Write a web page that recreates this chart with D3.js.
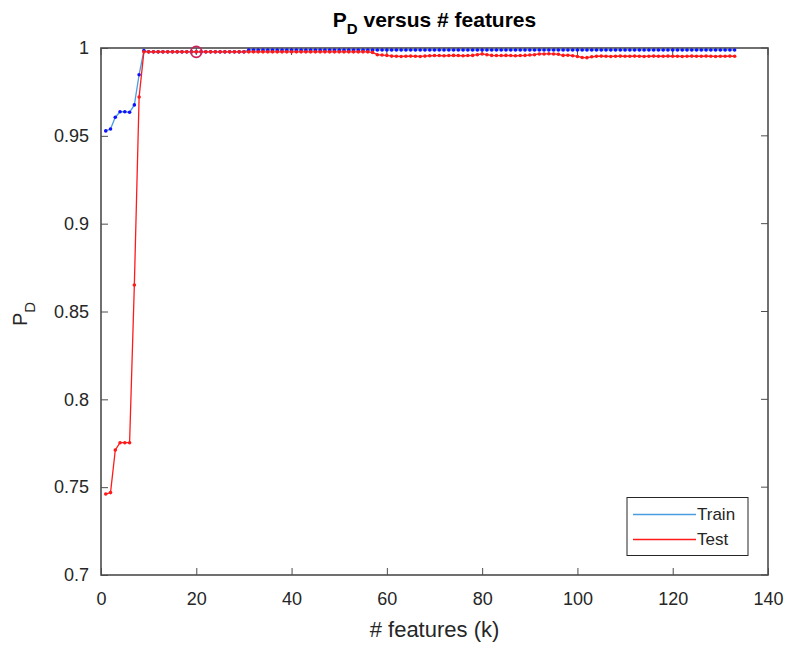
<!DOCTYPE html>
<html>
<head>
<meta charset="utf-8">
<script src="https://cdn.jsdelivr.net/npm/d3@7"></script>
<style>
  html, body { margin: 0; padding: 0; background: #fff; }
  svg { display: block; font-family: "Liberation Sans", Arial, sans-serif; }
</style>
</head>
<body>
<svg id="chart" width="786" height="647"></svg>
<script>
// ---------------- DATA ----------------
const xTicks = [0, 20, 40, 60, 80, 100, 120, 140];
const yTicks = [0.7, 0.75, 0.8, 0.85, 0.9, 0.95, 1];
const yTickLabels = ["0.7", "0.75", "0.8", "0.85", "0.9", "0.95", "1"];
const seriesNames = ["Train", "Test"];

const trainPD = [
  0.9528, 0.9539, 0.9606, 0.9637, 0.9637, 0.9634, 0.9676, 0.9848, 0.9985,
  0.9978, 0.9978, 0.9978, 0.9978, 0.9978, 0.9978, 0.9978,
  0.9978, 0.9978, 0.9978, 0.9978, 0.9978, 0.9978, 0.9978,
  0.9978, 0.9978, 0.9978, 0.9978, 0.9978, 0.9978, 0.9978,
  0.9989, 0.9989, 0.9989, 0.9989, 0.9989, 0.9989, 0.9989, 0.9989, 0.9989, 0.9989,
  0.9989, 0.9989, 0.9989, 0.9989, 0.9989, 0.9989, 0.9989, 0.9989, 0.9989, 0.9989,
  0.9989, 0.9989, 0.9989, 0.9989, 0.9989, 0.9989, 0.9989, 0.9989, 0.9989, 0.9989,
  0.9989, 0.9989, 0.9989, 0.9989, 0.9989, 0.9989, 0.9989, 0.9989, 0.9989, 0.9989,
  0.9989, 0.9989, 0.9989, 0.9989, 0.9989, 0.9989, 0.9989, 0.9989, 0.9989, 0.9989,
  0.9989, 0.9989, 0.9989, 0.9989, 0.9989, 0.9989, 0.9989, 0.9989, 0.9989, 0.9989,
  0.9989, 0.9989, 0.9989, 0.9989, 0.9989, 0.9989, 0.9989, 0.9989, 0.9989, 0.9989,
  0.9989, 0.9989, 0.9989, 0.9989, 0.9989, 0.9989, 0.9989, 0.9989, 0.9989, 0.9989,
  0.9989, 0.9989, 0.9989, 0.9989, 0.9989, 0.9989, 0.9989, 0.9989, 0.9989, 0.9989,
  0.9989, 0.9989, 0.9989, 0.9989, 0.9989, 0.9989, 0.9989, 0.9989, 0.9989, 0.9989,
  0.9989, 0.9989, 0.9989
];

const testPD = [
  0.7461, 0.7469, 0.7712, 0.7753, 0.7753, 0.7753, 0.8651, 0.9721, 0.9978,
  0.9978, 0.9978, 0.9978, 0.9978, 0.9978, 0.9978, 0.9978, 0.9978, 0.9978, 0.9978,
  0.9978, 0.9978, 0.9978, 0.9978, 0.9978, 0.9978, 0.9978, 0.9978, 0.9978, 0.9978,
  0.9978, 0.9978, 0.9978, 0.9978, 0.9978, 0.9978, 0.9978, 0.9978, 0.9978, 0.9978,
  0.9978, 0.9978, 0.9978, 0.9978, 0.9978, 0.9978, 0.9978, 0.9978, 0.9978, 0.9978,
  0.9978, 0.9978, 0.9978, 0.9978, 0.9978, 0.9978, 0.9978,
  0.9975,
  0.9962, 0.9960, 0.9958,
  0.9954, 0.9953, 0.9952, 0.9953, 0.9954, 0.9953, 0.9952, 0.9954,
  0.9956, 0.9957, 0.9957, 0.9956, 0.9957, 0.9958, 0.9957, 0.9956, 0.9957, 0.9958, 0.9962,
  0.9966, 0.9962,
  0.9958, 0.9957, 0.9957, 0.9958, 0.9957, 0.9956, 0.9957, 0.9958, 0.9960, 0.9962,
  0.9966, 0.9966, 0.9967, 0.9966, 0.9964,
  0.9958, 0.9959, 0.9956, 0.9952,
  0.9946, 0.9945, 0.9950,
  0.9953, 0.9954, 0.9953, 0.9952, 0.9953, 0.9954, 0.9953, 0.9953, 0.9954, 0.9953,
  0.9952, 0.9953, 0.9954, 0.9953, 0.9953, 0.9954, 0.9953, 0.9953, 0.9952, 0.9953,
  0.9954, 0.9953, 0.9953, 0.9954, 0.9953, 0.9952, 0.9953, 0.9953, 0.9954, 0.9953
];

// selected operating point (circle marker)
const selectedK = 20;
const selectedPD = 0.9978;

// ---------------- LAYOUT ----------------
const svg = d3.select("#chart");
const margin = { left: 101, top: 48, right: 786 - 768, bottom: 647 - 575 };
const W = 786, H = 647;
const plotW = W - margin.left - margin.right;
const plotH = H - margin.top - margin.bottom;

const x = d3.scaleLinear().domain([0, 140]).range([margin.left, margin.left + plotW]);
const y = d3.scaleLinear().domain([0.7, 1]).range([margin.top + plotH, margin.top]);

const boxColor = "#4d4d4d";
const textColor = "#262626";
const trainLine = "#4a9de0";
const trainMarker = "#1010ff";
const testColor = "#ff1a1a";

const train = trainPD.map((v, i) => ({ k: i + 1, v }));
const test = testPD.map((v, i) => ({ k: i + 1, v }));

// ---------------- AXES ----------------
const tickLen = 7;
const xAxis = d3.axisBottom(x).tickValues(xTicks).tickSize(tickLen).tickFormat(d3.format("d"));
const yAxis = d3.axisLeft(y).tickValues(yTicks).tickSize(tickLen)
  .tickFormat((d, i) => yTickLabels[i]);

const gx = svg.append("g").attr("transform", `translate(0,${margin.top + plotH})`).call(xAxis);
gx.select(".domain").remove();
gx.selectAll(".tick line").attr("y2", -tickLen).attr("stroke", boxColor);
gx.selectAll(".tick text").attr("font-size", 18).attr("fill", textColor)
  .attr("font-family", "Liberation Sans, Arial, sans-serif").attr("y", 17).attr("dy", "0.71em");

const gy = svg.append("g").attr("transform", `translate(${margin.left},0)`).call(yAxis);
gy.select(".domain").remove();
gy.selectAll(".tick line").attr("x2", tickLen).attr("stroke", boxColor);
gy.selectAll(".tick text").attr("font-size", 18).attr("fill", textColor)
  .attr("font-family", "Liberation Sans, Arial, sans-serif").attr("x", -12);

// mirrored ticks (top & right)
svg.append("g").selectAll("line").data(xTicks).join("line")
  .attr("x1", d => x(d)).attr("x2", d => x(d))
  .attr("y1", margin.top).attr("y2", margin.top + tickLen).attr("stroke", boxColor);
svg.append("g").selectAll("line").data(yTicks).join("line")
  .attr("x1", margin.left + plotW).attr("x2", margin.left + plotW - tickLen)
  .attr("y1", d => y(d)).attr("y2", d => y(d)).attr("stroke", boxColor);

// box
svg.append("rect")
  .attr("x", margin.left).attr("y", margin.top)
  .attr("width", plotW).attr("height", plotH)
  .attr("fill", "none").attr("stroke", boxColor).attr("stroke-width", 1.6);

// ---------------- SERIES ----------------
const line = d3.line().x(d => x(d.k)).y(d => y(d.v));

svg.append("path").datum(train).attr("d", line)
  .attr("fill", "none").attr("stroke", trainLine).attr("stroke-width", 1.3);
svg.append("g").selectAll("circle").data(train).join("circle")
  .attr("cx", d => x(d.k)).attr("cy", d => y(d.v)).attr("r", 1.8).attr("fill", trainMarker);

svg.append("path").datum(test).attr("d", line)
  .attr("fill", "none").attr("stroke", testColor).attr("stroke-width", 1.3);
svg.append("g").selectAll("circle").data(test).join("circle")
  .attr("cx", d => x(d.k)).attr("cy", d => y(d.v)).attr("r", 1.8).attr("fill", testColor);

// selected point circle
svg.append("circle")
  .attr("cx", x(selectedK)).attr("cy", y(selectedPD)).attr("r", 5.5)
  .attr("fill", "none").attr("stroke", "#cc1f5a").attr("stroke-width", 1.6);

// ---------------- TITLE & LABELS ----------------
const title = svg.append("text")
  .attr("x", margin.left + plotW / 2).attr("y", 27)
  .attr("text-anchor", "middle").attr("font-weight", "bold").attr("font-size", 21)
  .attr("fill", "#000");
title.append("tspan").text("P");
title.append("tspan").attr("font-size", 15).attr("dy", 7).text("D");
title.append("tspan").attr("dy", -7).text(" versus # features");

const ylab = svg.append("text")
  .attr("transform", `translate(27,314) rotate(-90)`)
  .attr("text-anchor", "middle").attr("font-size", 20).attr("fill", textColor);
ylab.append("tspan").text("P");
ylab.append("tspan").attr("font-size", 15).attr("dy", 8).text("D");

svg.append("text")
  .attr("x", margin.left + plotW / 2).attr("y", 637)
  .attr("text-anchor", "middle").attr("font-size", 22).attr("fill", textColor)
  .text("# features (k)");

// ---------------- LEGEND ----------------
const lg = svg.append("g");
lg.append("rect").attr("x", 627).attr("y", 497.5).attr("width", 121).attr("height", 58)
  .attr("fill", "#fff").attr("stroke", "#262626").attr("stroke-width", 1);
const legendColors = [trainLine, testColor];
seriesNames.forEach((name, i) => {
  const yy = 514.5 + i * 25;
  lg.append("line").attr("x1", 633).attr("x2", 696).attr("y1", yy).attr("y2", yy)
    .attr("stroke", legendColors[i]).attr("stroke-width", 1.3);
  lg.append("text").attr("x", 697).attr("y", yy).attr("dy", "0.35em")
    .attr("font-size", 17).attr("fill", textColor).text(name);
});
</script>
</body>
</html>
